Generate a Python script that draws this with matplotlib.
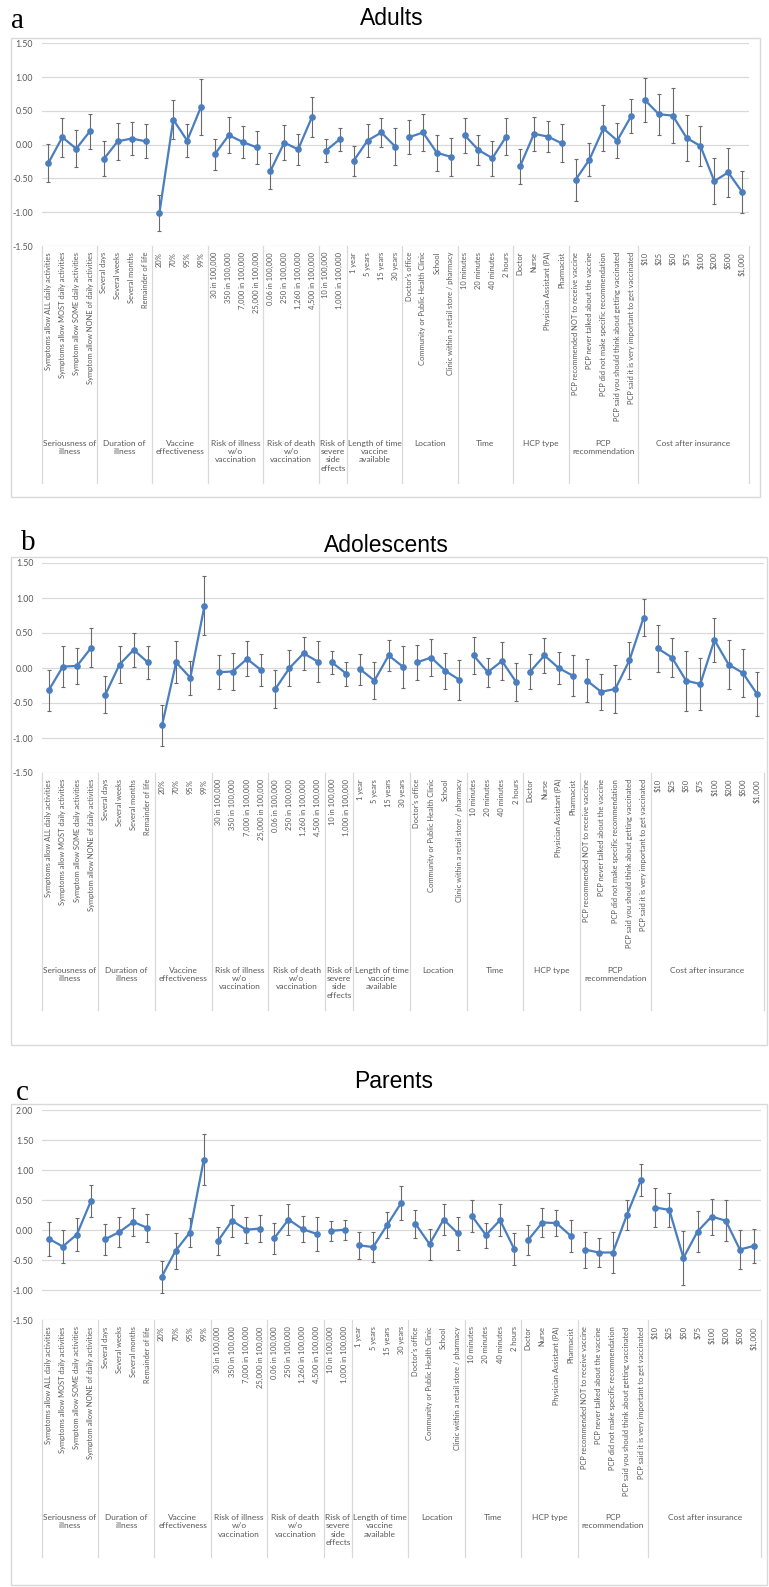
import numpy as np
import matplotlib
matplotlib.use("Agg")
import matplotlib.pyplot as plt
from matplotlib.patches import Rectangle
from matplotlib.lines import Line2D
from matplotlib.transforms import blended_transform_factory

plt.rcParams['font.family'] = ['Lato', 'DejaVu Sans']

W, H = 769, 1587

# ── data ──────────────────────────────────────────────────────────
categories = [
    "Symptoms allow ALL daily activities", "Symptoms allow MOST daily activities",
    "Symptom allow SOME daily activities", "Symptom allow NONE of daily activities",
    "Several days", "Several weeks", "Several months", "Remainder of life",
    "20%", "70%", "95%", "99%",
    "30 in 100,000", "350 in 100,000", "7,000 in 100,000", "25,000 in 100,000",
    "0.06 in 100,000", "250 in 100,000", "1,260 in 100,000", "4,500 in 100,000",
    "10 in 100,000", "1,000 in 100,000",
    "1 year", "5 years", "15 years", "30 years",
    "Doctor's office", "Community or Public Health Clinic", "School",
    "Clinic within a retail store / pharmacy",
    "10 minutes", "20 minutes", "40 minutes", "2 hours",
    "Doctor", "Nurse", "Physician Assistant (PA)", "Pharmacist",
    "PCP recommended NOT to receive vaccine", "PCP never talked about the vaccine",
    "PCP did not make specific recommendation",
    "PCP said you should think about getting vaccinated",
    "PCP said it is very important to get vaccinated",
    "$10", "$25", "$50", "$75", "$100", "$200", "$500", "$1,000",
]

group_names = [
    "Seriousness of\nillness", "Duration of\nillness", "Vaccine\neffectiveness",
    "Risk of illness\nw/o\nvaccination", "Risk of death\nw/o\nvaccination",
    "Risk of\nsevere\nside\neffects", "Length of time\nvaccine\navailable",
    "Location", "Time", "HCP type", "PCP\nrecommendation", "Cost after insurance",
]
group_sizes = [4, 4, 4, 4, 4, 2, 4, 4, 4, 4, 5, 8]

adults_mean = [
    -0.27, 0.11, -0.06, 0.20,
    -0.21, 0.05, 0.09, 0.05,
    -1.01, 0.37, 0.06, 0.56,
    -0.14, 0.14, 0.04, -0.04,
    -0.39, 0.03, -0.07, 0.41,
    -0.09, 0.08,
    -0.24, 0.06, 0.18, -0.03,
    0.11, 0.18, -0.12, -0.18,
    0.14, -0.08, -0.20, 0.12,
    -0.32, 0.16, 0.12, 0.02,
    -0.52, -0.22, 0.24, 0.06, 0.42,
    0.66, 0.45, 0.43, 0.10, -0.02, -0.54, -0.41, -0.70,
]
adults_err = [
    0.28, 0.29, 0.27, 0.26,
    0.26, 0.27, 0.24, 0.25,
    0.27, 0.29, 0.24, 0.41,
    0.23, 0.27, 0.24, 0.24,
    0.27, 0.26, 0.23, 0.30,
    0.17, 0.17,
    0.22, 0.25, 0.22, 0.27,
    0.25, 0.27, 0.27, 0.28,
    0.26, 0.22, 0.26, 0.27,
    0.26, 0.25, 0.23, 0.28,
    0.31, 0.25, 0.34, 0.26, 0.25,
    0.33, 0.30, 0.41, 0.34, 0.30, 0.34, 0.36, 0.31,
]

adol_mean = [
    -0.32, 0.02, 0.03, 0.29,
    -0.38, 0.05, 0.26, 0.08,
    -0.82, 0.08, -0.14, 0.89,
    -0.06, -0.05, 0.13, -0.03,
    -0.30, 0.00, 0.21, 0.09,
    0.08, -0.08,
    -0.02, -0.18, 0.18, 0.02,
    0.08, 0.15, -0.04, -0.17,
    0.18, -0.06, 0.10, -0.20,
    -0.05, 0.18, 0.00, -0.11,
    -0.18, -0.34, -0.30, 0.11, 0.72,
    0.28, 0.15, -0.18, -0.23, 0.40, 0.05, -0.07, -0.37,
]
adol_err = [
    0.29, 0.29, 0.26, 0.28,
    0.26, 0.27, 0.24, 0.24,
    0.29, 0.30, 0.24, 0.42,
    0.24, 0.27, 0.25, 0.23,
    0.27, 0.26, 0.24, 0.29,
    0.17, 0.17,
    0.22, 0.26, 0.22, 0.30,
    0.25, 0.27, 0.26, 0.29,
    0.27, 0.21, 0.27, 0.27,
    0.25, 0.25, 0.23, 0.29,
    0.31, 0.26, 0.34, 0.26, 0.26,
    0.34, 0.28, 0.43, 0.37, 0.31, 0.35, 0.34, 0.32,
]

parents_mean = [
    -0.14, -0.27, -0.07, 0.49,
    -0.15, -0.03, 0.14, 0.04,
    -0.78, -0.34, -0.04, 1.18,
    -0.18, 0.16, 0.01, 0.03,
    -0.13, 0.18, 0.02, -0.06,
    -0.01, 0.01,
    -0.25, -0.28, 0.09, 0.46,
    0.11, -0.23, 0.18, -0.05,
    0.24, -0.08, 0.17, -0.31,
    -0.16, 0.13, 0.12, -0.09,
    -0.32, -0.37, -0.37, 0.26, 0.84,
    0.38, 0.34, -0.46, -0.02, 0.23, 0.16, -0.32, -0.26,
]
parents_err = [
    0.28, 0.27, 0.27, 0.27,
    0.26, 0.25, 0.24, 0.23,
    0.27, 0.30, 0.24, 0.42,
    0.23, 0.27, 0.22, 0.23,
    0.26, 0.26, 0.22, 0.29,
    0.17, 0.17,
    0.23, 0.25, 0.21, 0.28,
    0.23, 0.26, 0.26, 0.27,
    0.27, 0.21, 0.27, 0.27,
    0.25, 0.24, 0.22, 0.27,
    0.30, 0.24, 0.34, 0.25, 0.26,
    0.32, 0.28, 0.45, 0.34, 0.30, 0.34, 0.32, 0.29,
]

BLUE = '#4A7EBF'
GRID = '#d9d9d9'
TXT = '#595959'


def fx(px):
    return px / W


def fy(py):
    return 1 - py / H


fig = plt.figure(figsize=(W / 100, H / 100), dpi=100)


def draw_panel(letter, title, mean, err, ylim, box, plot, letter_pos, title_pos):
    # outer frame
    bx0, by0, bx1, by1 = box
    fig.add_artist(Rectangle((fx(bx0), fy(by1)), fx(bx1) - fx(bx0), fy(by0) - fy(by1),
                             transform=fig.transFigure, fill=False, ec=GRID, lw=1))
    fig.text(fx(letter_pos[0]), fy(letter_pos[1]), letter, fontsize=21,
             family='Liberation Serif', va='baseline', ha='left')
    fig.text(fx(title_pos[0]), fy(title_pos[1]), title, fontsize=16.5,
             family='Liberation Sans', va='baseline', ha='center')

    px0, py0, px1, py1 = plot
    ax = fig.add_axes([fx(px0), fy(py1), fx(px1) - fx(px0), fy(py0) - fy(py1)])
    ax.set_facecolor('none')

    start = 0
    for n in group_sizes:
        xs = np.arange(start, start + n)
        ys = mean[start:start + n]
        es = err[start:start + n]
        ax.errorbar(xs, ys, yerr=es, fmt='none', ecolor='#6a6a6a', elinewidth=0.8,
                    capsize=1.5, capthick=0.8, zorder=2)
        ax.plot(xs, ys, color=BLUE, lw=1.6, marker='o', ms=3.8, zorder=3)
        start += n

    ax.set_xlim(-0.5, len(categories) - 0.5)
    ax.set_ylim(*ylim)
    ticks = np.arange(ylim[0], ylim[1] + 0.01, 0.5)
    ax.set_yticks(ticks)
    ax.set_yticklabels([f'{v:.2f}' for v in ticks])
    ax.grid(axis='y', color=GRID, lw=0.9)
    ax.set_axisbelow(True)
    for s in ax.spines.values():
        s.set_visible(False)
    ax.tick_params(axis='y', length=0, pad=6, labelsize=6.3, labelcolor=TXT)
    ax.set_xticks(range(len(categories)))
    ax.set_xticklabels(categories, rotation=90, fontsize=5.4, color=TXT)
    ax.tick_params(axis='x', length=0, pad=4.3)

    # category group separators and names below the axis
    trans = blended_transform_factory(ax.transData, fig.transFigure)
    bounds = np.concatenate([[0], np.cumsum(group_sizes)]) - 0.5
    for b in bounds:
        fig.add_artist(Line2D([b, b], [fy(py1), fy(py1 + 237)], transform=trans,
                              color=GRID, lw=0.9))
    start = 0
    for name, n in zip(group_names, group_sizes):
        fig.text(start + (n - 1) / 2, fy(py1 + 194), name, transform=trans,
                 ha='center', va='top', multialignment='center', fontsize=6,
                 color=TXT, linespacing=1.2)
        start += n
    return ax


draw_panel('a', 'Adults', adults_mean, adults_err, (-1.5, 1.5),
           box=(11, 38, 760, 497), plot=(41.5, 43.3, 749, 246),
           letter_pos=(11, 28), title_pos=(392, 25))
draw_panel('b', 'Adolescents', adol_mean, adol_err, (-1.5, 1.5),
           box=(11, 557, 767, 1045), plot=(41.6, 563, 764, 773),
           letter_pos=(21, 550), title_pos=(386, 551.5))
draw_panel('c', 'Parents', parents_mean, parents_err, (-1.5, 2.0),
           box=(11, 1104, 767, 1585), plot=(41.6, 1110.3, 761, 1320.3),
           letter_pos=(16, 1100), title_pos=(393.5, 1088))

fig.savefig('out.png', dpi=100)
